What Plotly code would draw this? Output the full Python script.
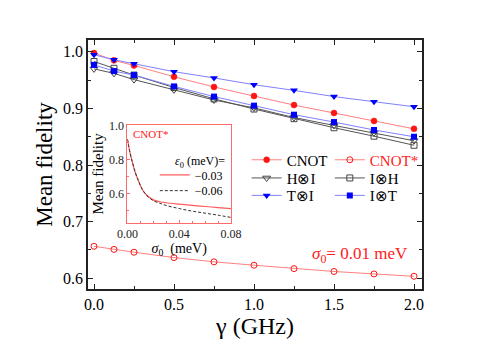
import plotly.graph_objects as go

# ---------------- data ----------------
gamma = [0, 0.125, 0.25, 0.5, 0.75, 1.0, 1.25, 1.5, 1.75, 2.0]
cnot = [0.998, 0.985, 0.976, 0.956, 0.938, 0.922, 0.906, 0.892, 0.878, 0.864]
cnot_star = [0.6565, 0.651, 0.646, 0.6365, 0.629, 0.623, 0.617, 0.612, 0.6076, 0.6035]
h_i = [0.970, 0.962, 0.951, 0.933, 0.915, 0.901, 0.884, 0.870, 0.857, 0.843]
i_h = [0.983, 0.971, 0.959, 0.937, 0.917, 0.899, 0.882, 0.866, 0.851, 0.835]
t_i = [0.995, 0.986, 0.979, 0.965, 0.954, 0.942, 0.932, 0.921, 0.912, 0.903]
i_t = [0.977, 0.966, 0.959, 0.939, 0.921, 0.905, 0.889, 0.876, 0.862, 0.850]

sigma0 = [0, 0.002, 0.004, 0.006, 0.008, 0.010, 0.012, 0.015, 0.020, 0.025,
          0.030, 0.040, 0.050, 0.060, 0.070, 0.080]
fid_eps_m003 = [0.92, 0.84, 0.78, 0.725, 0.685, 0.648, 0.618, 0.590, 0.563, 0.552,
                0.546, 0.538, 0.531, 0.524, 0.518, 0.511]
fid_eps_m006 = [0.92, 0.84, 0.78, 0.725, 0.685, 0.648, 0.618, 0.588, 0.558, 0.543,
                0.530, 0.512, 0.497, 0.485, 0.473, 0.460]

# ---------------- styles ----------------
SERIF = "Liberation Serif"
RED_LINE = "#ff8080"
RED = "#ff1414"
BLUE_LINE = "#8080ff"
BLUE = "#0000ff"
GRAY_LINE = "#555555"
GRAY = "#444444"
FRAME = "#222222"
INSET_FRAME = "#ff6a6a"

fig = go.Figure()

main_series = [
    ("CNOT", cnot, RED_LINE, dict(symbol="circle", size=6, color=RED, line=dict(color=RED, width=0.5)), "legend"),
    ("CNOT*", cnot_star, RED_LINE, dict(symbol="circle-open", size=6, color=RED, line=dict(width=1)), "legend2"),
    ("H⊗I", h_i, GRAY_LINE, dict(symbol="triangle-down-open", size=7, color=GRAY, line=dict(width=1)), "legend3"),
    ("I⊗H", i_h, GRAY_LINE, dict(symbol="square-open", size=6, color=GRAY, line=dict(width=1)), "legend4"),
    ("T⊗I", t_i, BLUE_LINE, dict(symbol="triangle-down", size=7, color=BLUE), "legend5"),
    ("I⊗T", i_t, BLUE_LINE, dict(symbol="square", size=6, color=BLUE), "legend6"),
]
for name, ys, lc, mk, lg in main_series:
    fig.add_trace(go.Scatter(
        x=gamma, y=ys, name=name, mode="lines+markers",
        line=dict(color=lc, width=1), marker=mk,
        xaxis="x", yaxis="y", legend=lg,
    ))

fig.add_trace(go.Scatter(
    x=sigma0, y=fid_eps_m003, name="−0.03", mode="lines",
    line=dict(color="#ff5a5a", width=1.2, shape="spline"),
    xaxis="x2", yaxis="y2", legend="legend7",
))
fig.add_trace(go.Scatter(
    x=sigma0, y=fid_eps_m006, name="−0.06", mode="lines",
    line=dict(color="#333333", width=1, dash="3px,2px", shape="spline"),
    xaxis="x2", yaxis="y2", legend="legend8",
))

# ---------------- legends (one entry each, placed like the original) ----------------
def lg(x, y, color="black", size=15):
    return dict(x=x, y=y, xanchor="left", yanchor="middle", bgcolor="rgba(0,0,0,0)",
                borderwidth=0, font=dict(family=SERIF, size=size, color=color))

c1, c2 = 0.475, 0.724
r1, r2, r3 = 0.518, 0.445, 0.375
layout_legends = dict(
    legend=lg(c1, r1),
    legend2=lg(c2, r1, color="#ff2020"),
    legend3=lg(c1, r2),
    legend4=lg(c2, r2),
    legend5=lg(c1, r3),
    legend6=lg(c2, r3),
    legend7=lg(0.200, 0.458, size=12),
    legend8=lg(0.200, 0.395, size=12),
)

axis_common = dict(
    showline=True, linecolor=FRAME, linewidth=1.5, mirror="ticks",
    ticks="inside", ticklen=5, tickwidth=1, tickcolor=FRAME,
    showgrid=False, zeroline=False, automargin=False,
    tickfont=dict(family=SERIF, size=16, color="black"),
)

fig.update_layout(
    width=482, height=331,
    margin=dict(l=80, r=68, t=32, b=50),
    showlegend=True,
    paper_bgcolor="white", plot_bgcolor="white",
    font=dict(family=SERIF, color="black"),
    xaxis=dict(
        **axis_common, domain=[0, 1], anchor="y",
        range=[-0.0375, 2.05], tick0=0, dtick=0.5, tickformat=".1f",
        minor=dict(dtick=0.25, ticks="inside", ticklen=3, tickcolor=FRAME),
        title=dict(text="γ (GHz)", font=dict(family=SERIF, size=24), standoff=6),
    ),
    yaxis=dict(
        **axis_common, domain=[0, 1], anchor="x",
        range=[0.581, 1.021], tick0=0, dtick=0.1, tickformat=".1f",
        minor=dict(dtick=0.05, ticks="inside", ticklen=3, tickcolor=FRAME),
        title=dict(text="Mean fidelity", font=dict(family=SERIF, size=23), standoff=4),
    ),
    xaxis2=dict(
        domain=[0.118, 0.428], anchor="y2", range=[0, 0.08],
        tick0=0, dtick=0.04, tickformat=".2f", automargin=False,
        showline=True, linecolor=INSET_FRAME, linewidth=1, mirror=True,
        ticks="inside", ticklen=3, tickcolor=INSET_FRAME,
        minor=dict(dtick=0.01, ticks="inside", ticklen=2, tickcolor=INSET_FRAME),
        showgrid=False, zeroline=False,
        tickfont=dict(family=SERIF, size=12, color="#222"),
        title=dict(text="<i>σ</i><sub>0</sub>  (meV)", font=dict(family=SERIF, size=14), standoff=1),
    ),
    yaxis2=dict(
        domain=[0.267, 0.657], anchor="x2", range=[0.43, 1.0],
        tick0=0, dtick=0.2, tickformat=".1f", automargin=False,
        showline=True, linecolor=INSET_FRAME, linewidth=1, mirror=True,
        ticks="inside", ticklen=3, tickcolor=INSET_FRAME,
        minor=dict(dtick=0.1, ticks="inside", ticklen=2, tickcolor=INSET_FRAME),
        showgrid=False, zeroline=False,
        tickfont=dict(family=SERIF, size=12, color="#222"),
        title=dict(text="Mean fidelity", font=dict(family=SERIF, size=15), standoff=1),
    ),
    annotations=[
        dict(x=1.66, y=0.641, xref="x", yref="y", text="<i>σ</i><sub>0</sub>= 0.01 meV",
             showarrow=False, font=dict(family=SERIF, size=17, color="#ff2020")),
        dict(x=0.0025, y=0.95, xref="x2", yref="y2", xanchor="left", text="CNOT*",
             showarrow=False, font=dict(family=SERIF, size=11, color="#ff2020")),
        dict(x=0.0352, y=0.785, xref="x2", yref="y2", xanchor="left",
             text="<i>ε</i><sub>0</sub> (meV)=",
             showarrow=False, font=dict(family=SERIF, size=12, color="black")),
    ],
    **layout_legends,
)

fig.write_html("out.html")
